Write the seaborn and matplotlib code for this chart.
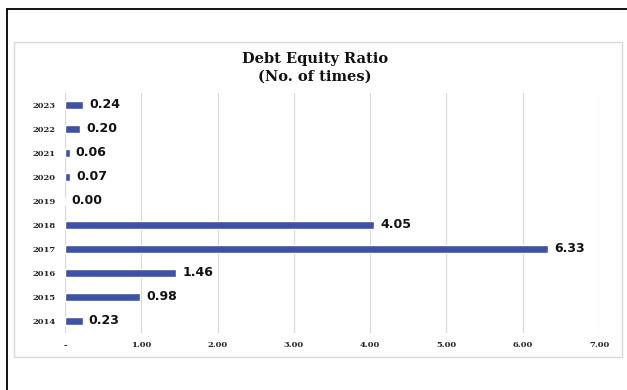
import matplotlib
matplotlib.use("Agg")
import matplotlib.pyplot as plt
from matplotlib.lines import Line2D
from matplotlib.patches import Rectangle
import seaborn as sns
import pandas as pd

# chart data
years = ["2023", "2022", "2021", "2020", "2019", "2018", "2017", "2016", "2015", "2014"]
ratios = [0.24, 0.20, 0.06, 0.07, 0.00, 4.05, 6.33, 1.46, 0.98, 0.23]
x_ticks = [0, 1, 2, 3, 4, 5, 6, 7]
x_tick_labels = ["-", "1.00", "2.00", "3.00", "4.00", "5.00", "6.00", "7.00"]

df = pd.DataFrame({"year": years, "ratio": ratios})

sns.set_style("white")
W, H = 627, 390
fig = plt.figure(figsize=(W / 100, H / 100), dpi=100)
fig.patch.set_facecolor("white")

# outer frame (left + top black lines) and light inner chart box
fig.add_artist(Line2D([7 / W, 7 / W], [0, 1 - 9 / H], color="black", lw=1.3))
fig.add_artist(Line2D([7 / W, 1], [1 - 9 / H, 1 - 9 / H], color="black", lw=1.3))
fig.add_artist(Rectangle((14 / W, 1 - 357 / H), (622 - 14) / W, (357 - 42) / H,
                         fill=False, edgecolor="#d9d9d9", lw=1.0))

ax = fig.add_axes([65 / W, 1 - 333 / H, (599 - 65) / W, (333 - 93) / H])
sns.barplot(data=df, x="ratio", y="year", order=years, orient="h",
            color="#3f51a5", saturation=1, width=0.33, ax=ax)

ax.set_xlim(0, 7)
ax.set_xticks(x_ticks)
ax.set_xticklabels(x_tick_labels)
ax.set_xlabel("")
ax.set_ylabel("")
ax.grid(axis="x", color="#d9d9d9", lw=0.9)
ax.set_axisbelow(True)
for s in ax.spines.values():
    s.set_visible(False)
ax.tick_params(axis="both", length=0)
ax.tick_params(axis="y", pad=7)
ax.tick_params(axis="x", pad=6)
for lab in ax.get_yticklabels() + ax.get_xticklabels():
    lab.set_fontfamily("DejaVu Serif")
    lab.set_fontweight("bold")
    lab.set_fontsize(6)
    lab.set_color("#222222")

ax.bar_label(ax.containers[0], fmt="%.2f", padding=4.5,
             fontsize=9, fontweight="bold", color="#111111",
             family="DejaVu Sans")

fig.text(315 / W, 1 - 59 / H, "Debt Equity Ratio", ha="center", va="center",
         fontsize=10.5, fontweight="bold", family="DejaVu Serif", color="#111111")
fig.text(315 / W, 1 - 77 / H, "(No. of times)", ha="center", va="center",
         fontsize=10.5, fontweight="bold", family="DejaVu Serif", color="#111111")

fig.savefig("out.png", dpi=100)
